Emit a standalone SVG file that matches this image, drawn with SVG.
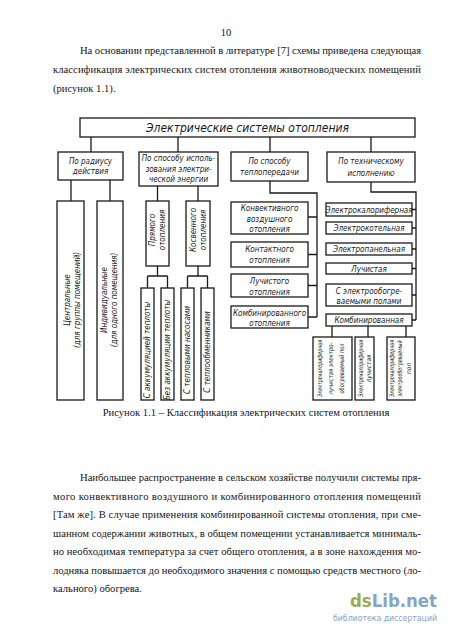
<svg xmlns="http://www.w3.org/2000/svg" width="450" height="637" viewBox="0 0 450 637">
<style>
.pg{font-family:"Liberation Serif","Times New Roman",serif;font-size:10.6px;fill:#151515}
.bx{fill:#fff;stroke:#1a1a1a;stroke-width:1.3}
.ln{fill:none;stroke:#1a1a1a;stroke-width:1.3}
.t{font-family:"DejaVu Sans Condensed","DejaVu Sans",sans-serif;font-style:italic;font-stretch:condensed;font-size:8px;fill:#1a1a1a;text-anchor:middle}
.s7{font-size:6.5px}
.tt{font-size:12px}
</style>
<rect width="450" height="637" fill="#fff"/>
<g id="page-text">
<text class="pg" x="226" y="36" text-anchor="middle" font-size="9.5">10</text>
<text class="pg" x="80" y="54" textLength="341" lengthAdjust="spacing">На основании представленной в литературе [7] схемы приведена следующая</text>
<text class="pg" x="53" y="73" textLength="368" lengthAdjust="spacing">классификация электрических систем отопления животноводческих помещений</text>
<text class="pg" x="53" y="92">(рисунок 1.1).</text>
<text class="pg" x="246" y="416" text-anchor="middle" font-size="10">Рисунок 1.1 – Классификация электрических систем отопления</text>
<text class="pg" x="80" y="481" textLength="341" lengthAdjust="spacing">Наибольшее распространение в сельском хозяйстве получили системы пря-</text>
<text class="pg" x="53" y="499.5" textLength="368" lengthAdjust="spacing">мого конвективного воздушного и комбинированного отопления помещений</text>
<text class="pg" x="53" y="518" textLength="368" lengthAdjust="spacing">[Там же]. В случае применения комбинированной системы отопления, при сме-</text>
<text class="pg" x="53" y="536.5" textLength="368" lengthAdjust="spacing">шанном содержании животных, в общем помещении устанавливается минималь-</text>
<text class="pg" x="53" y="555" textLength="368" lengthAdjust="spacing">но необходимая температура за счет общего отопления, а в зоне нахождения мо-</text>
<text class="pg" x="53" y="573.5" textLength="368" lengthAdjust="spacing">лодняка повышается до необходимого значения с помощью средств местного (ло-</text>
<text class="pg" x="53" y="592">кального) обогрева.</text>
</g>
<g id="watermark" font-family="'DejaVu Sans','Open Sans',sans-serif">
<text x="350" y="607" font-size="18" font-weight="bold" textLength="87" lengthAdjust="spacingAndGlyphs"><tspan fill="#9bab4e">ds</tspan><tspan fill="#86a4c8">Lib.net</tspan></text>
<text x="333" y="621" font-size="8.5" fill="#86a4c8" textLength="104" lengthAdjust="spacingAndGlyphs">библиотека диссертаций</text>
</g>
<g id="connectors">
<path class="ln" d="M91 137V152M178 137V152M270 137V152M371 137V152"/>
<path class="ln" d="M71 180V201M110 180V201"/>
<path class="ln" d="M157.5 186V201M198 186V201"/>
<path class="ln" d="M157.5 266V276M147.5 276H167.5M147.5 276V288M167.5 276V288"/>
<path class="ln" d="M198 266V276M187.5 276H207.5M187.5 276V288M207.5 276V288"/>
<path class="ln" d="M270 181V193H317V317M308 217H317M308 254.5H317M308 285.5H317M308 317H317"/>
<path class="ln" d="M371 182V192H416V320M412 209.5H416M412 228H416M412 249H416M412 268.5H416M412 295H416M412 320H416"/>
<path class="ln" d="M332 326V337M368 326V337M406 326V337"/>
</g>
<g id="root"><rect class="bx" x="80" y="118" width="335" height="19"/><text class="t tt" x="247.5" y="132">Электрические системы отопления</text></g>
<g id="radius"><rect class="bx" x="58" y="152" width="65" height="28"/><text class="t" x="90.5" y="164">По радиусу</text><text class="t" x="90.5" y="174">действия</text></g>
<g id="energy"><rect class="bx" x="139" y="152" width="79" height="34"/><text class="t" x="178.5" y="161">По способу исполь-</text><text class="t" x="178.5" y="171.5">зования электри-</text><text class="t" x="178.5" y="182">ческой энергии</text></g>
<g id="transfer"><rect class="bx" x="231" y="152" width="77" height="29"/><text class="t" x="269.5" y="164">По способу</text><text class="t" x="269.5" y="175">теплопередачи</text></g>
<g id="technical"><rect class="bx" x="327" y="152" width="88" height="30"/><text class="t" x="371" y="164">По техническому</text><text class="t" x="371" y="176">исполнению</text></g>
<g id="central"><rect class="bx" x="57" y="201" width="27" height="199"/><text class="t" transform="translate(70,300) rotate(-90)"><tspan x="0" y="0">Центральные</tspan><tspan x="0" dy="10">(для группы помещений)</tspan></text></g>
<g id="individual"><rect class="bx" x="97" y="201" width="26" height="199"/><text class="t" transform="translate(107,300) rotate(-90)"><tspan x="0" y="0">Индивидуальные</tspan><tspan x="0" dy="10">(для одного помещения)</tspan></text></g>
<g id="direct"><rect class="bx" x="146" y="201" width="23" height="65"/><text class="t" transform="translate(155,230) rotate(-90)"><tspan x="0" y="0">Прямого</tspan><tspan x="0" dy="10">отопления</tspan></text></g>
<g id="indirect"><rect class="bx" x="186" y="201" width="24" height="65"/><text class="t" transform="translate(196,230) rotate(-90)"><tspan x="0" y="0">Косвенного</tspan><tspan x="0" dy="10">отопления</tspan></text></g>
<g id="accum"><rect class="bx" x="141" y="288" width="13" height="112"/><text class="t" transform="translate(150.3,350) rotate(-90)">С аккумуляцией теплоты</text></g>
<g id="noaccum"><rect class="bx" x="161" y="288" width="13" height="112"/><text class="t" transform="translate(170.3,350) rotate(-90)">Без аккумуляции теплоты</text></g>
<g id="heatpump"><rect class="bx" x="181" y="288" width="13" height="112"/><text class="t" transform="translate(190.3,350) rotate(-90)">С тепловыми насосами</text></g>
<g id="exchanger"><rect class="bx" x="201" y="288" width="13" height="112"/><text class="t" transform="translate(210.3,352) rotate(-90)">С теплообменниками</text></g>
<g id="convective"><rect class="bx" x="231" y="202" width="77" height="32"/><text class="t" x="269.5" y="211">Конвективного</text><text class="t" x="269.5" y="221.5">воздушного</text><text class="t" x="269.5" y="232">отопления</text></g>
<g id="contact"><rect class="bx" x="231" y="242" width="77" height="25"/><text class="t" x="269.5" y="252">Контактного</text><text class="t" x="269.5" y="263">отопления</text></g>
<g id="radiant"><rect class="bx" x="231" y="274" width="77" height="23"/><text class="t" x="269.5" y="284">Лучистого</text><text class="t" x="269.5" y="295">отопления</text></g>
<g id="combined"><rect class="bx" x="231" y="306" width="77" height="22"/><text class="t" x="269.5" y="315.5">Комбинированного</text><text class="t" x="269.5" y="326">отопления</text></g>
<g id="r-calorifer"><rect class="bx" x="326" y="203" width="86" height="13"/><text class="t" x="369" y="212.5">Электрокалориферная</text></g>
<g id="r-boiler"><rect class="bx" x="326" y="222" width="86" height="12"/><text class="t" x="369" y="231">Электрокотельная</text></g>
<g id="r-panel"><rect class="bx" x="326" y="243" width="86" height="12"/><text class="t" x="369" y="252">Электропанельная</text></g>
<g id="r-radiant"><rect class="bx" x="326" y="263" width="86" height="11"/><text class="t" x="369" y="271.5">Лучистая</text></g>
<g id="r-floor"><rect class="bx" x="326" y="284" width="86" height="22"/><text class="t" x="369" y="293.5">С электрообогре-</text><text class="t" x="369" y="304">ваемыми полами</text></g>
<g id="r-combined"><rect class="bx" x="326" y="314" width="86" height="12"/><text class="t" x="369" y="323">Комбинированная</text></g>
<g id="q1"><rect class="bx" x="313" y="337" width="39" height="63"/>
<text class="t s7" transform="translate(322,368.5) rotate(-90)" textLength="57" lengthAdjust="spacingAndGlyphs">Электрокалориферная</text>
<text class="t s7" transform="translate(333,368.5) rotate(-90)" textLength="52" lengthAdjust="spacingAndGlyphs">лучистая электро-</text>
<text class="t s7" transform="translate(344,368.5) rotate(-90)" textLength="50" lengthAdjust="spacingAndGlyphs">обогреваемый пол</text></g>
<g id="q2"><rect class="bx" x="355" y="337" width="19" height="63"/>
<text class="t s7" transform="translate(362.5,368.5) rotate(-90)" textLength="57" lengthAdjust="spacingAndGlyphs">Электрокалориферная</text>
<text class="t s7" transform="translate(371,368.5) rotate(-90)">лучистая</text></g>
<g id="q3"><rect class="bx" x="387" y="337" width="28" height="63"/>
<text class="t s7" transform="translate(394,368.5) rotate(-90)" textLength="57" lengthAdjust="spacingAndGlyphs">Электрокалориферная</text>
<text class="t s7" transform="translate(402,368.5) rotate(-90)" textLength="56" lengthAdjust="spacingAndGlyphs">электрообогреваемый</text>
<text class="t s7" transform="translate(410.5,368.5) rotate(-90)">пол</text></g>
</svg>
